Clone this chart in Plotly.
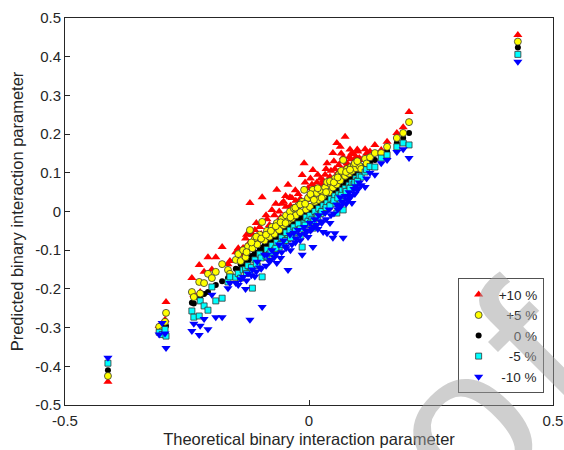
import plotly.graph_objects as go

# Theoretical binary interaction parameter (shared x for all five series)
theoretical = [
    -0.412, -0.307, -0.301, -0.295, -0.293,
    -0.240, -0.236, -0.225, -0.223, -0.215, -0.207, -0.199, -0.191, -0.178, -0.166, -0.162,
    -0.150, -0.145, -0.140, -0.135, -0.130, -0.125, -0.121, -0.116, -0.111, -0.106,
    -0.101, -0.096, -0.091, -0.086, -0.081, -0.076, -0.071, -0.066, -0.061, -0.056,
    -0.052, -0.047, -0.043, -0.039, -0.035, -0.031, -0.027, -0.022, -0.018, -0.014,
    -0.010, -0.006, -0.002, 0.002, 0.006, 0.008, 0.012, 0.016, 0.020, 0.024,
    0.029, 0.033, 0.037, 0.041, 0.045, 0.049, 0.053, 0.057, 0.061, 0.064,
    0.068, 0.070, 0.074, 0.078, 0.082, 0.086, 0.088, 0.092, 0.096, 0.100,
    0.103,
    0.107, 0.115, 0.118, 0.125, 0.135, 0.148, 0.160, 0.180, 0.193, 0.205, 0.428,
    -0.128, -0.118, -0.108, -0.098, -0.088, -0.078, -0.068, -0.058, -0.048, -0.038,
    -0.028, -0.018, -0.008, 0.003, 0.010, 0.018, 0.026, 0.035, 0.043, 0.051,
    0.059, 0.066, 0.076, 0.084, 0.094, 0.099,
]

pred_p10 = [
    -0.440, -0.296, -0.300, -0.280, -0.234,
    -0.172, -0.215, -0.138, -0.208, -0.156, -0.118, -0.150, -0.118, -0.092, -0.136, -0.128,
    -0.105, -0.095, -0.112, -0.094, -0.070, -0.085, 0.022, -0.060, -0.048, -0.075,
    -0.040, 0.037, -0.074, -0.020, -0.035, 0.004, -0.010, 0.056, 0.000, 0.020,
    0.025, 0.012, 0.069, 0.037, 0.035, 0.010, 0.028, 0.045, 0.032, 0.094,
    0.125, 0.030, 0.060, 0.045, 0.070, 0.107, 0.050, 0.075, 0.060, 0.085,
    0.080, 0.095, 0.125, 0.080, 0.105, 0.151, 0.110, 0.177, 0.120, 0.167,
    0.130, 0.140, 0.193, 0.125, 0.140, 0.135, 0.151, 0.148, 0.140, 0.155,
    0.138,
    0.133, 0.161, 0.150, 0.155, 0.172, 0.159, 0.180, 0.203, 0.218, 0.257, 0.456,
    -0.060, -0.055, -0.030, -0.058, -0.010, -0.045, 0.020, -0.015, 0.040, 0.015,
    0.055, 0.020, 0.075, 0.085, 0.065, 0.095, 0.070, 0.110, 0.090, 0.130,
    0.100, 0.150, 0.115, 0.160, 0.130, 0.160,
]

pred_p5 = [
    -0.425, -0.298, -0.309, -0.285, -0.262,
    -0.208, -0.221, -0.182, -0.212, -0.185, -0.161, -0.172, -0.156, -0.136, -0.151, -0.161,
    -0.125, -0.110, -0.128, -0.100, -0.118, -0.090, -0.048, -0.095, -0.070, -0.085,
    -0.060, -0.027, -0.075, -0.050, -0.065, -0.040, -0.058, -0.030, -0.048, -0.020,
    -0.035, -0.010, -0.025, 0.000, -0.018, 0.008, -0.010, 0.015, -0.002, 0.025,
    0.056, 0.005, 0.035, 0.012, 0.040, 0.056, 0.025, 0.048, 0.030, 0.055,
    0.040, 0.062, 0.076, 0.050, 0.070, 0.062, 0.085, 0.070, 0.095, 0.080,
    0.100, 0.133, 0.092, 0.110, 0.098, 0.115, 0.105, 0.120, 0.112, 0.125,
    0.118,
    0.110, 0.136, 0.124, 0.140, 0.151, 0.151, 0.167, 0.190, 0.203, 0.231, 0.439,
    -0.105, -0.080, -0.065, -0.070, -0.060, -0.050, -0.038, -0.028, -0.030, -0.015,
    0.010, 0.018, 0.020, 0.045, 0.030, 0.060, 0.035, 0.050, 0.078, 0.075,
    0.088, 0.105, 0.102, 0.108, 0.125, 0.130,
]

pred_0 = [
    -0.410, -0.303, -0.306, -0.293, -0.296,
    -0.236, -0.238, -0.224, -0.220, -0.213, -0.208, -0.195, -0.190, -0.180, -0.172, -0.165,
    -0.148, -0.150, -0.136, -0.138, -0.126, -0.128, -0.118, -0.120, -0.106, -0.109,
    -0.097, -0.100, -0.087, -0.089, -0.078, -0.079, -0.068, -0.069, -0.058, -0.059,
    -0.049, -0.050, -0.040, -0.042, -0.032, -0.034, -0.024, -0.025, -0.015, -0.017,
    -0.007, -0.009, 0.001, -0.001, 0.009, 0.005, 0.015, 0.013, 0.023, 0.021,
    0.032, 0.030, 0.040, 0.038, 0.048, 0.047, 0.056, 0.054, 0.064, 0.062,
    0.071, 0.068, 0.077, 0.076, 0.085, 0.084, 0.091, 0.090, 0.099, 0.098,
    0.106,
    0.099, 0.120, 0.118, 0.128, 0.133, 0.141, 0.156, 0.177, 0.190, 0.203, 0.424,
    -0.125, -0.115, -0.112, -0.094, -0.086, -0.080, -0.065, -0.060, -0.045, -0.040,
    -0.030, -0.020, -0.010, 0.000, 0.008, 0.015, 0.027, 0.033, 0.045, 0.052,
    0.060, 0.066, 0.074, 0.082, 0.093, 0.100,
]

pred_m5 = [
    -0.392, -0.312, -0.318, -0.305, -0.322,
    -0.257, -0.273, -0.270, -0.231, -0.244, -0.255, -0.195, -0.231, -0.224, -0.182, -0.169,
    -0.170, -0.160, -0.172, -0.151, -0.150, -0.140, -0.157, -0.198, -0.125, -0.140,
    -0.110, -0.169, -0.118, -0.098, -0.110, -0.088, -0.100, -0.080, -0.092, -0.068,
    -0.080, -0.055, -0.070, -0.048, -0.062, -0.040, -0.055, -0.032, -0.066, -0.092,
    -0.030, -0.015, -0.025, -0.010, -0.020, -0.043, 0.000, -0.012, 0.008, -0.005,
    0.015, 0.005, 0.022, 0.012, 0.032, 0.020, 0.040, -0.004, 0.045, 0.030,
    0.055, 0.004, 0.060, 0.050, 0.068, 0.062, 0.075, 0.070, 0.085, 0.080,
    0.092,
    0.089, 0.102, 0.108, 0.116, 0.115, 0.138, 0.146, 0.167, 0.177, 0.172, 0.406,
    -0.160, -0.145, -0.135, -0.120, -0.115, -0.105, -0.095, -0.085, -0.075, -0.068,
    -0.050, -0.045, -0.035, -0.030, -0.025, -0.015, 0.000, 0.010, 0.015, 0.028,
    0.035, 0.042, 0.052, 0.060, 0.075, 0.078,
]

pred_m10 = [
    -0.378, -0.318, -0.288, -0.315, -0.353,
    -0.309, -0.290, -0.319, -0.295, -0.278, -0.304, -0.215, -0.273, -0.273, -0.198, -0.185,
    -0.185, -0.190, -0.175, -0.169, -0.200, -0.160, -0.280, -0.150, -0.168, -0.130,
    -0.145, -0.247, -0.112, -0.112, -0.130, -0.100, -0.118, -0.133, -0.085, -0.105,
    -0.075, -0.095, -0.151, -0.060, -0.085, -0.055, -0.070, -0.048, -0.074, -0.112,
    -0.040, -0.050, -0.066, -0.030, -0.045, -0.092, -0.020, -0.035, -0.010, -0.025,
    -0.053, -0.004, -0.056, 0.005, -0.010, -0.068, -0.056, 0.018, 0.010, 0.037,
    0.025, -0.068, 0.040, 0.030, 0.050, 0.040, 0.022, 0.058, 0.065, 0.060,
    0.075,
    0.068, 0.063, 0.085, 0.100, 0.095, 0.125, 0.133, 0.154, 0.161, 0.138, 0.387,
    -0.178, -0.165, -0.155, -0.148, -0.140, -0.125, -0.110, -0.120, -0.090, -0.100,
    -0.080, -0.060, -0.058, -0.050, -0.040, -0.045, -0.030, -0.020, -0.030, -0.005,
    0.005, 0.015, 0.020, 0.035, 0.045, 0.055,
]

series_names = ["+10 %", "+5 %", "0 %", "-5 %", "-10 %"]
legend_labels = ["+10 %", "\u2007+5 %", "\u2007\u20070 %", "\u2007\u2009-5 %", "\u2009-10 %"]

x_tickvals = [-0.5, 0, 0.5]
x_ticktext = ["-0.5", "0", "0.5"]
y_tickvals = [-0.5, -0.4, -0.3, -0.2, -0.1, 0, 0.1, 0.2, 0.3, 0.4, 0.5]
y_ticktext = ["-0.5", "-0.4", "-0.3", "-0.2", "-0.1", "0", "0.1", "0.2", "0.3", "0.4", "0.5"]

values = {
    "+10 %": pred_p10,
    "+5 %": pred_p5,
    "0 %": pred_0,
    "-5 %": pred_m5,
    "-10 %": pred_m10,
}
for v in values.values():
    assert len(v) == len(theoretical)

ink = "#262626"

styles = {
    "+10 %": dict(symbol="triangle-up", size=8, color="#FF0000", line=dict(width=0)),
    "+5 %": dict(symbol="circle", size=7, color="#FFFF00", line=dict(width=0.8, color="#333333")),
    "0 %": dict(symbol="circle", size=6, color="#000000", line=dict(width=0)),
    "-5 %": dict(symbol="square", size=6, color="#00FFFF", line=dict(width=0.8, color="#333333")),
    "-10 %": dict(symbol="triangle-down", size=8, color="#0000FF", line=dict(width=0)),
}

draw_order = ["+10 %", "0 %", "+5 %", "-5 %", "-10 %"]

fig = go.Figure()
for name in draw_order:
    idx = series_names.index(name)
    fig.add_trace(go.Scatter(
        x=theoretical, y=values[name], mode="markers",
        name=legend_labels[idx], marker=styles[name],
        legendrank=idx + 1,
    ))

fig.update_layout(
    width=564, height=450,
    margin=dict(l=65, r=11, t=18, b=45, autoexpand=False),
    paper_bgcolor="white", plot_bgcolor="white",
    font=dict(family="Liberation Sans, Arial, sans-serif", size=15, color=ink),
    showlegend=True,
    legend=dict(
        x=0.805, y=0.03, xanchor="left", yanchor="bottom",
        bgcolor="white", bordercolor=ink, borderwidth=0.8,
        font=dict(size=13.5, color=ink),
        tracegroupgap=0, itemwidth=30,
    ),
    xaxis=dict(
        range=[-0.5, 0.5], tickvals=x_tickvals, ticktext=x_ticktext,
        ticks="inside", ticklen=5, tickcolor=ink, ticklabelstandoff=2,
        tickfont=dict(size=15, color=ink),
        showline=True, linecolor=ink, linewidth=1, mirror=True,
        showgrid=False, zeroline=False, automargin=False,
        title=dict(text="Theoretical binary interaction parameter", font=dict(size=16.5, color=ink), standoff=5),
    ),
    yaxis=dict(
        range=[-0.5, 0.5], tickvals=y_tickvals, ticktext=y_ticktext,
        ticks="inside", ticklen=5, tickcolor=ink,
        tickfont=dict(size=15, color=ink),
        showline=True, linecolor=ink, linewidth=1, mirror=True,
        showgrid=False, zeroline=False, automargin=False,
        title=dict(text="Predicted binary interaction parameter", font=dict(size=16.5, color=ink), standoff=7),
    ),
)

# Diagonal "Journal Pre-proof" watermark; only the tail ("o" and "f") falls inside the picture
wm_font = dict(size=220, color="rgba(160,160,160,0.5)", family="Liberation Sans, Arial, sans-serif")
fig.add_annotation(
    text="Journal Pre-proo", xref="paper", yref="paper",
    x=-0.287, y=-1.44, xanchor="center", yanchor="middle",
    textangle=-45, showarrow=False, font=wm_font,
)
fig.add_annotation(
    text="f", xref="paper", yref="paper",
    x=0.965, y=0.14, xanchor="center", yanchor="middle",
    textangle=-45, showarrow=False, font=wm_font,
)

fig.write_html("out.html")
